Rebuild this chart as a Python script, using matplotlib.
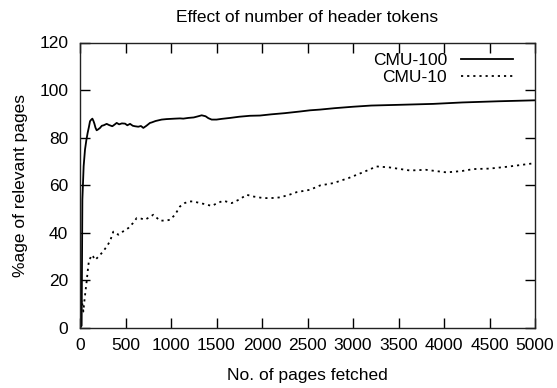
import matplotlib
matplotlib.use("Agg")
import matplotlib.pyplot as plt

plt.rcParams['font.family'] = ['Liberation Sans', 'DejaVu Sans']
plt.rcParams['font.size'] = 12.5

# CMU-100 (solid)
cmu100_x = [0, 18, 26, 40, 55, 70, 84, 98, 110, 122, 136, 148, 158, 170, 183, 200, 220, 240,
            260, 293, 320, 355, 380, 403, 430, 460, 495, 520, 550, 580, 604, 640, 670, 696,
            730, 769, 788, 830, 897, 950, 1044, 1100, 1135, 1190, 1250, 1300, 1337, 1380,
            1410, 1447, 1500, 1557, 1650, 1750, 1868, 1978, 2100, 2250, 2418, 2528, 2637,
            2800, 3000, 3200, 3500, 3883, 4200, 4600, 5000]
cmu100_y = [0, 1, 54, 68, 75, 79, 82, 84.5, 86.9, 87.5, 88, 87, 85.9, 84.2, 83.1, 83.5, 84.1, 85,
            85.2, 85.8, 85.3, 84.8, 85.5, 86.2, 85.6, 86.0, 85.9, 85.2, 85.8, 85.0, 84.8, 84.6,
            84.9, 84.1, 85.0, 86.2, 86.4, 87.0, 87.6, 87.8, 88.0, 88.1, 88.0, 88.3, 88.5, 89.0,
            89.4, 89.0, 88.2, 87.6, 87.6, 87.9, 88.3, 88.8, 89.2, 89.3, 89.8, 90.3, 91.0, 91.5,
            91.8, 92.4, 93.0, 93.5, 93.8, 94.2, 94.8, 95.3, 95.7]

# CMU-10 (dotted)
cmu10_x = [0, 18, 30, 37, 50, 62, 73, 85, 99, 115, 128, 145, 165, 190, 220, 250, 293, 330,
           366, 395, 421, 470, 531, 580, 623, 670, 714, 760, 806, 879, 952, 989, 1044, 1099,
           1150, 1200, 1245, 1319, 1380, 1447, 1510, 1575, 1667, 1750, 1832, 1900, 2015, 2100,
           2198, 2300, 2381, 2528, 2637, 2784, 2950, 3100, 3260, 3400, 3626, 3800, 4029, 4200,
           4322, 4500, 4700, 5000]
cmu10_y = [3, 11.8, 9, 6.9, 12, 16, 19.5, 24, 28.6, 29.5, 30.7, 30.0, 28.6, 29.5, 30.7, 32.0, 34.2,
           36.5, 40.5, 40.0, 39.2, 40.5, 42.0, 44.0, 46.2, 46.0, 45.5, 46.5, 47.6, 45.1, 45.2,
           45.5, 47.6, 51.1, 52.5, 53.2, 53.2, 52.5, 52.0, 51.3, 52.5, 53.5, 52.5, 54.0, 56.0,
           55.3, 54.6, 54.6, 54.9, 56.0, 57.1, 58.1, 59.9, 60.9, 63.0, 65.3, 67.9, 67.5, 66.2,
           66.5, 65.4, 66.0, 66.8, 67.0, 67.8, 69.3]

x_ticks = list(range(0, 5001, 500))
y_ticks = list(range(0, 121, 20))

fig = plt.figure(figsize=(5.57, 3.88), dpi=100)
ax = fig.add_axes([80 / 557, 1 - 328 / 388, 455 / 557, 285.5 / 388])

ax.plot(cmu100_x, cmu100_y, color='black', lw=1.3, label='CMU-100')
ax.plot(cmu10_x, cmu10_y, color='black', lw=1.3, linestyle=(0, (1.2, 2.2)), label='CMU-10')

ax.set_xlim(0, 5000)
ax.set_ylim(0, 120)
ax.set_xticks(x_ticks)
ax.set_yticks(y_ticks)
ax.tick_params(direction='in', length=7, width=1, top=True, right=True, labelsize=12.5)
ax.tick_params(axis='x', pad=7)
ax.tick_params(axis='y', pad=8.5)
for s in ax.spines.values():
    s.set_linewidth(1)
    s.set_color('#222222')

ax.set_title('Effect of number of header tokens', fontsize=12.5, pad=15)
ax.set_xlabel('No. of pages fetched', fontsize=12.5, labelpad=11)
ax.set_ylabel('%age of relevant pages', fontsize=12.5, labelpad=8)

ax.legend(loc='upper right', bbox_to_anchor=(433 / 455, 0.965), frameon=False,
          markerfirst=False, handlelength=3.0, handletextpad=0.8, borderpad=0,
          borderaxespad=0, labelspacing=0.15, fontsize=12.5)

fig.savefig('out.png', dpi=100)
